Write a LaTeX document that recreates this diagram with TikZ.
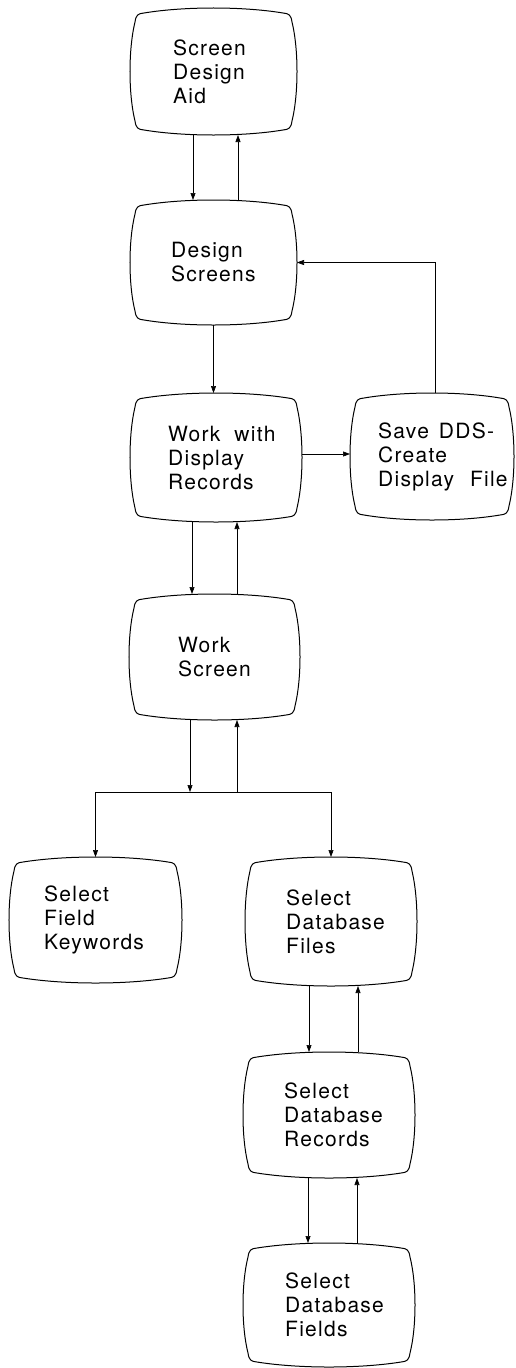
\documentclass[tikz,border=0pt]{standalone}
\usepackage{fontspec}
\setmainfont{TeX Gyre Heros}[LetterSpace=6]
\usetikzlibrary{arrows.meta}
\tikzset{
  boxline/.style={line width=1pt},
  boxshape/.style={rectangle, inner sep=0pt, outer sep=0pt},
  boxtext/.style={anchor=west, align=left, inner sep=0pt, font=\fontsize{21}{24}\selectfont},
  arr/.style={line width=0.6pt, -{Triangle[length=7pt,width=5pt]}},
  link/.style={line width=0.6pt}
}
% name, cx, cy, w, h, text offset, text
\newcommand\tvbox[7]{%
  \node[boxshape, minimum width=#4pt, minimum height=#5pt] (#1) at (#2,#3) {};
  \node[boxtext] (#1t) at ([xshift=#6pt]#1.west) {#7};
  \begin{scope}[shift={(#2,#3)}]
    \pgfmathsetmacro\hw{#4/2}\pgfmathsetmacro\hh{#5/2}
    \draw[boxline] (-\hw+5,-\hh+14)
      .. controls (-\hw+6,-\hh+7) and (-\hw+8,-\hh+5.5) .. (-\hw+14,-\hh+5)
      .. controls (-0.35*\hw,-\hh-1.67) and (0.35*\hw,-\hh-1.67) .. (\hw-14,-\hh+5)
      .. controls (\hw-8,-\hh+5.5) and (\hw-6,-\hh+7) .. (\hw-5,-\hh+14)
      .. controls (\hw+1.67,-0.35*\hh) and (\hw+1.67,0.35*\hh) .. (\hw-5,\hh-14)
      .. controls (\hw-6,\hh-7) and (\hw-8,\hh-5.5) .. (\hw-14,\hh-5)
      .. controls (0.35*\hw,\hh+1.67) and (-0.35*\hw,\hh+1.67) .. (-\hw+14,\hh-5)
      .. controls (-\hw+8,\hh-5.5) and (-\hw+6,\hh-7) .. (-\hw+5,\hh-14)
      .. controls (-\hw-1.67,0.35*\hh) and (-\hw-1.67,-0.35*\hh) .. cycle;
  \end{scope}}
\begin{document}
\begin{tikzpicture}[x=1pt,y=-1pt]
\useasboundingbox (0,0) rectangle (515,1368);
\tvbox{sda}{213.5}{71.5}{167}{127}{43}{Screen\\Design\\Aid}
\tvbox{ds}{213.5}{262.5}{167}{125}{41}{Design\\Screens}
\tvbox{wdr}{216}{457.5}{172}{129}{38}{Work\hspace{14pt}with\\Display\\Records}
\tvbox{save}{432}{456.5}{164}{127}{28}{Save\hspace{10pt}DDS-\\Create\\Display\hspace{16pt}File}
\tvbox{ws}{214.5}{657}{171}{126}{49}{Work\\Screen}
\tvbox{sfk}{95.5}{920}{173}{126}{35}{Select\\Field\\Keywords}
\tvbox{sdf}{331}{921.5}{172}{129}{41}{Select\\Database\\Files}
\tvbox{sdr}{329}{1115}{172}{126}{41}{Select\\Database\\Records}
\tvbox{sdfl}{329}{1305}{172}{124}{42}{Select\\Database\\Fields}
\coordinate (j) at (213.5,792);
% connectors
\draw[arr] ([xshift=-20.5pt]sda.south) -- ([xshift=-20.5pt]ds.north);
\draw[arr] ([xshift=24.5pt]ds.north) -- ([xshift=24.5pt]sda.south);
\draw[arr] (ds.south) -- (ds.south |- wdr.north);
\draw[arr] ([yshift=3.5pt]wdr.east) -- ([yshift=3.5pt]wdr.east -| save.west);
\draw[arr] ([xshift=3pt]save.north) |- (ds.east);
\draw[arr] ([xshift=-22.5pt]ws.north |- wdr.south) -- ([xshift=-22.5pt]ws.north);
\draw[arr] ([xshift=22.5pt]ws.north) -- ([xshift=22.5pt]ws.north |- wdr.south);
\draw[link] (sfk.north |- j) -- (sdf.north |- j);
\draw[arr] ([xshift=-24.5pt]ws.south) -- ([xshift=-24.5pt]ws.south |- j);
\draw[arr] ([xshift=22.5pt]ws.south |- j) -- ([xshift=22.5pt]ws.south);
\draw[arr] (sfk.north |- j) -- (sfk.north);
\draw[arr] (sdf.north |- j) -- (sdf.north);
\draw[arr] ([xshift=-20pt]sdr.north |- sdf.south) -- ([xshift=-20pt]sdr.north);
\draw[arr] ([xshift=29pt]sdr.north) -- ([xshift=29pt]sdr.north |- sdf.south);
\draw[arr] ([xshift=-21pt]sdfl.north |- sdr.south) -- ([xshift=-21pt]sdfl.north);
\draw[arr] ([xshift=28pt]sdfl.north) -- ([xshift=28pt]sdfl.north |- sdr.south);
\end{tikzpicture}
\end{document}
